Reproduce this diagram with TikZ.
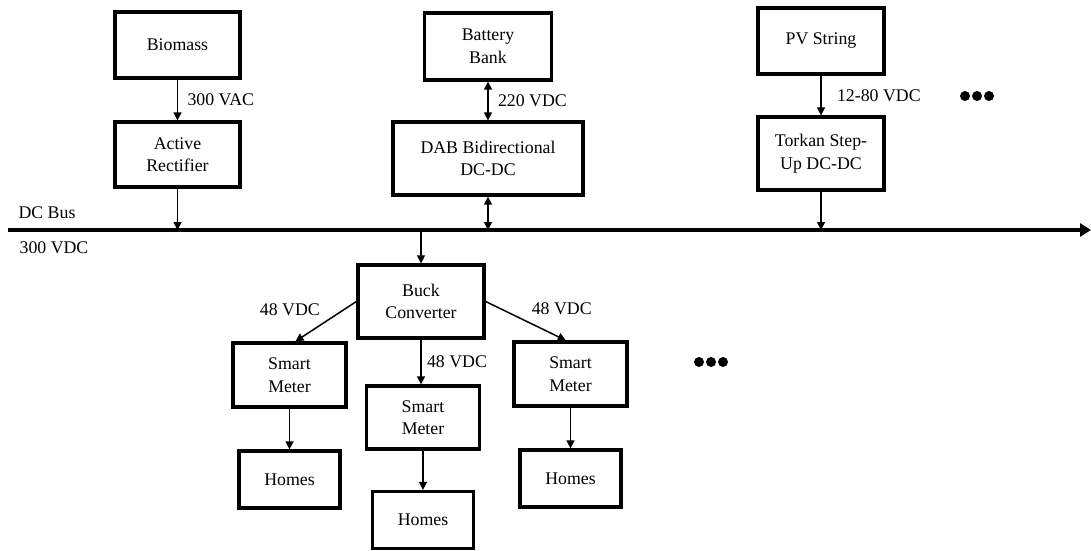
\documentclass[tikz,border=0pt]{standalone}
\usepackage{fontspec}
\setmainfont{Liberation Serif}
\usetikzlibrary{arrows.meta}

\begin{document}
\begin{tikzpicture}[x=1pt, y=-1pt, node distance=110pt, font=\fontsize{17.8}{22.5}\selectfont]
  \tikzstyle{unit} = [rectangle, draw, line width=3.3pt, align=center, minimum width=125pt, minimum height=66pt]
  \tikzstyle{meter} = [unit, minimum width=113pt, minimum height=64pt]
  \tikzstyle{home} = [unit, minimum width=101pt, minimum height=57pt]
  \tikzstyle{link} = [line width=1.5pt, -{Triangle[length=8pt,width=8pt]}]
  \tikzstyle{twoway} = [line width=1.5pt, {Triangle[length=8pt,width=8pt]}-{Triangle[length=8pt,width=8pt]}]
  \useasboundingbox (0,0) rectangle (1091,550);

  % sources
  \node [unit] (bio) at (177.5,45) {Biomass};
  \node [unit, below of=bio, node distance=109.5pt, minimum height=65pt] (rect) {Active\\Rectifier};
  \node [unit, minimum width=127pt, minimum height=67pt] (batt) at (488,46.5) {Battery\\Bank};
  \node [unit, below of=batt, node distance=112pt, minimum width=190pt, minimum height=73pt] (dab) {DAB Bidirectional\\DC-DC};
  \node [unit, minimum width=126pt] (pv) at (821,41) {PV String};
  \node [unit, below of=pv, node distance=112.5pt, minimum width=126pt, minimum height=73pt] (torkan) {Torkan Step-\\Up DC-DC};

  % dc bus
  \coordinate (busL) at (8,230);
  \coordinate (busR) at (1091,230);
  \draw [line width=4.5pt, -{Triangle[length=11pt,width=13pt]}] (busL) -- (busR);
  \node (buslabel) at (47,213) {DC Bus};
  \node (busvolt) at (54,248) {300 VDC};

  % loads
  \node [unit, minimum width=126pt, minimum height=73pt] (buck) at (421,301.5) {Buck\\Converter};
  \node [meter] (sm1) at (289.5,375) {Smart\\Meter};
  \node [meter, minimum height=63pt] (sm2) at (423,417.5) {Smart\\Meter};
  \node [meter] (sm3) at (570.5,374) {Smart\\Meter};
  \node [home, below of=sm1, node distance=104.5pt] (home1) {Homes};
  \node [home, below of=sm2, node distance=102.5pt] (home2) {Homes};
  \node [home, below of=sm3, node distance=104.5pt] (home3) {Homes};

  \draw [link] (bio) -- (rect) node [midway, right=6pt] {300 VAC};
  \draw [link] (rect) -- (rect |- busL);
  \draw [twoway] (batt) -- (dab) node [midway, right=6pt] {220 VDC};
  \draw [twoway] (dab) -- (dab |- busL);
  \draw [link] (pv) -- (torkan) node [midway, right=12pt] {12-80 VDC};
  \draw [link] (torkan) -- (torkan |- busL);

  \draw [link] (buck.north |- busL) -- (buck);
  \draw [link] (buck.west) -- (sm1.80) node [midway, above left=2pt] {48 VDC};
  \draw [link] (buck.south) -- (buck.south |- sm2.north) node [midway, right=2pt] {48 VDC};
  \draw [link] (buck.east) -- (sm3.98) node [midway, above right=2pt] {48 VDC};
  \draw [link] (sm1) -- (home1);
  \draw [link] (sm2) -- (home2);
  \draw [link] (sm3) -- (home3);

  % more units
  \foreach \x in {965,977,989} \fill (\x,96) circle (5pt);
  \foreach \x in {699,711,723} \fill (\x,362) circle (5pt);
\end{tikzpicture}
\end{document}
